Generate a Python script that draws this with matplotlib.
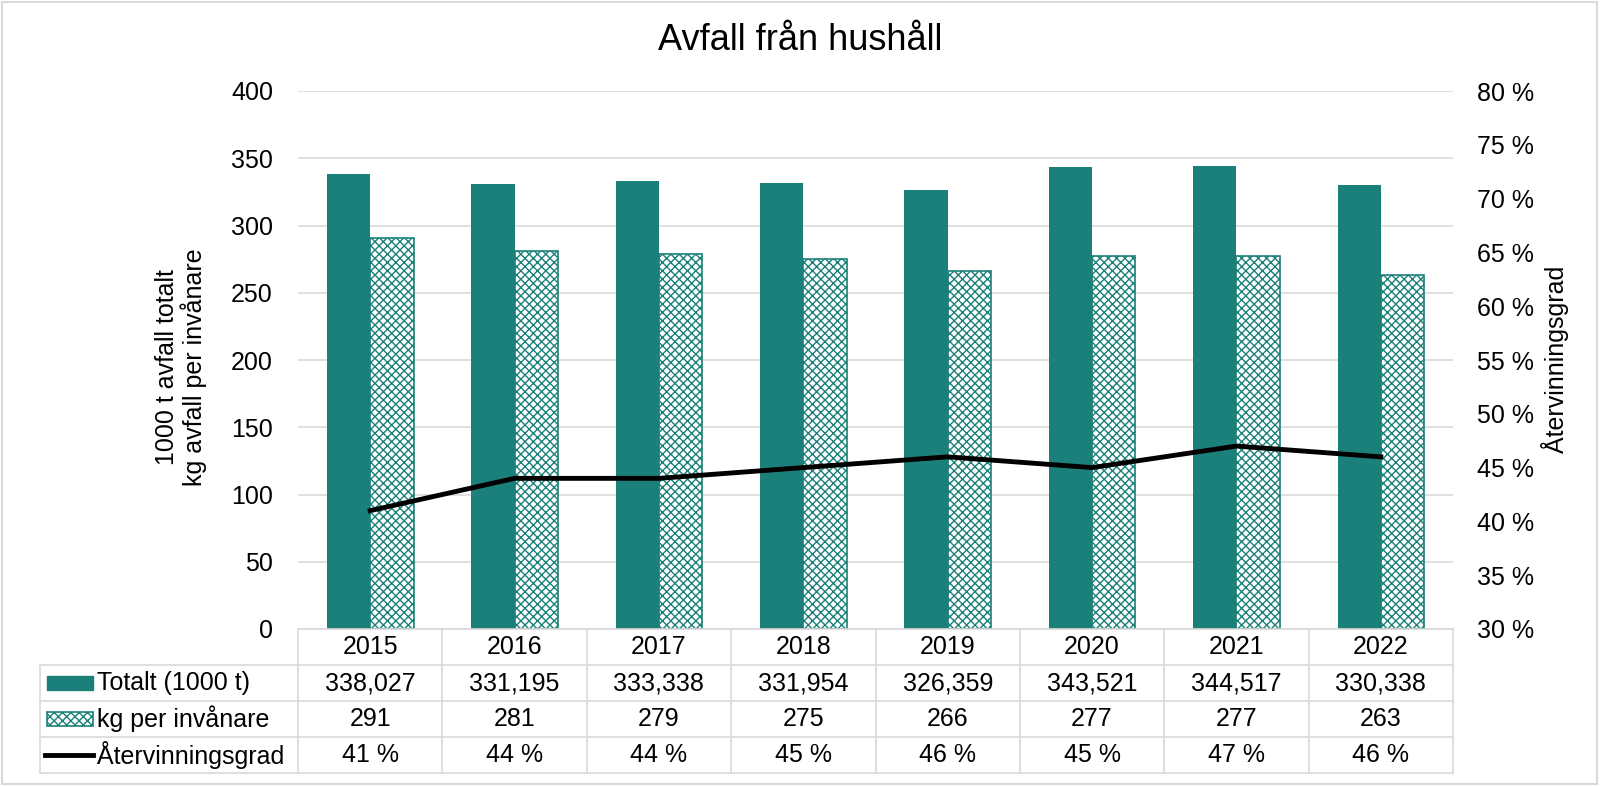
import numpy as np
import matplotlib.pyplot as plt
from matplotlib.patches import Rectangle
from matplotlib.lines import Line2D
import matplotlib.transforms as mtransforms

# ============================================================
# DATA
# ============================================================

years = ["2015", "2016", "2017", "2018", "2019", "2020", "2021", "2022"]
totalt = [338.027, 331.195, 333.338, 331.954, 326.359, 343.521, 344.517, 330.338]
kg_per_inv = [291, 281, 279, 275, 266, 277, 277, 263]
atervinning = [41, 44, 44, 45, 46, 45, 47, 46]

left_ticks = [0, 50, 100, 150, 200, 250, 300, 350, 400]
right_ticks = [30, 35, 40, 45, 50, 55, 60, 65, 70, 75, 80]

row_labels = ["Totalt (1000 t)", "kg per invånare", "Återvinningsgrad"]

# ============================================================
# STYLE
# ============================================================

TEAL = "#1b8079"
GRID = "#d9d9d9"
FS = 18

plt.rcParams["font.family"] = ["Liberation Sans", "DejaVu Sans"]
plt.rcParams["hatch.linewidth"] = 1.0
plt.rcParams["hatch.color"] = TEAL

W, H = 1600, 786
fig = plt.figure(figsize=(16, 7.86), dpi=100)

L, R, T, B = 298, 1453, 91, 629
ax = fig.add_axes([L / W, 1 - B / H, (R - L) / W, (B - T) / H])
ax2 = ax.twinx()

x = np.arange(len(years))
bw = 0.3

ax.bar(x - bw / 2, totalt, bw, color=TEAL, edgecolor=TEAL, linewidth=0, zorder=2)
ax.bar(x + bw / 2, kg_per_inv, bw, color="white", edgecolor=TEAL,
       hatch="xxxx", linewidth=1.2, zorder=2)

ax.set_xlim(-0.5, len(years) - 0.5)
ax.set_ylim(0, 400)
ax.set_yticks(left_ticks)
ax.set_xticks([])
ax.grid(axis="y", color=GRID, linewidth=1.2, zorder=0)
ax.set_axisbelow(True)
ax.tick_params(axis="y", length=0, pad=18, labelsize=FS)
for s in ax.spines.values():
    s.set_visible(False)

ax2.plot(x, atervinning, color="black", linewidth=3.5, zorder=3)
ax2.set_ylim(30, 80)
ax2.set_yticks(right_ticks)
ax2.set_yticklabels([f"{v} %" for v in right_ticks])
ax2.tick_params(axis="y", length=0, pad=17, labelsize=FS)
for s in ax2.spines.values():
    s.set_visible(False)

# ============================================================
# LABELS
# ============================================================

fig.text(0.5, 1 - 40 / H, "Avfall från hushåll", ha="center", va="center", fontsize=26)
fig.text(181 / W, 1 - 367 / H, "1000 t avfall totalt\nkg avfall per invånare",
         rotation=90, ha="center", va="center", fontsize=FS, linespacing=1.05)
fig.text(1555 / W, 1 - 359 / H, "Återvinningsgrad",
         rotation=90, ha="center", va="center", fontsize=FS)

# ============================================================
# DATA TABLE
# ============================================================

row_y = [629, 665, 701, 737, 773]
to_fig = lambda py: 1 - py / H
blend = mtransforms.blended_transform_factory(ax.transData, fig.transFigure)

cell_text = [
    years,
    [f"{v:.3f}".replace(".", ",") for v in totalt],
    [str(v) for v in kg_per_inv],
    [f"{v} %" for v in atervinning],
]

for r, row in enumerate(cell_text):
    yc = to_fig((row_y[r] + row_y[r + 1]) / 2)
    for i, txt in enumerate(row):
        fig.text(x[i], yc, txt, transform=blend, ha="center", va="center", fontsize=FS)

# horizontal lines
for r, py in enumerate(row_y):
    x0 = L if r == 0 else 40
    fig.add_artist(Line2D([x0 / W, R / W], [to_fig(py)] * 2, color=GRID, linewidth=1.2))
# vertical lines
for i in range(len(years) + 1):
    xv = L + i * (R - L) / len(years)
    fig.add_artist(Line2D([xv / W] * 2, [to_fig(row_y[0]), to_fig(row_y[-1])],
                          color=GRID, linewidth=1.2))
fig.add_artist(Line2D([40 / W] * 2, [to_fig(row_y[1]), to_fig(row_y[-1])],
                      color=GRID, linewidth=1.2))

# legend keys + row labels
for r, label in enumerate(row_labels):
    yc = (row_y[r + 1] + row_y[r + 2]) / 2
    if r == 0:
        fig.add_artist(Rectangle((47 / W, to_fig(yc + 7)), 46 / W, 14 / H,
                                 facecolor=TEAL, edgecolor=TEAL, transform=fig.transFigure))
    elif r == 1:
        fig.add_artist(Rectangle((47 / W, to_fig(yc + 7)), 46 / W, 14 / H,
                                 facecolor="white", edgecolor=TEAL, hatch="xxxx",
                                 linewidth=1.2, transform=fig.transFigure))
    else:
        fig.add_artist(Line2D([45 / W, 93 / W], [to_fig(yc)] * 2,
                              color="black", linewidth=3.5))
    fig.text(97 / W, to_fig(yc), label, ha="left", va="center", fontsize=FS)

# outer frame
fig.add_artist(Rectangle((2 / W, 2 / H), 1 - 5 / W, 1 - 4 / H, fill=False,
                         edgecolor=GRID, linewidth=1.5, transform=fig.transFigure))

fig.savefig("out.png", dpi=100)
